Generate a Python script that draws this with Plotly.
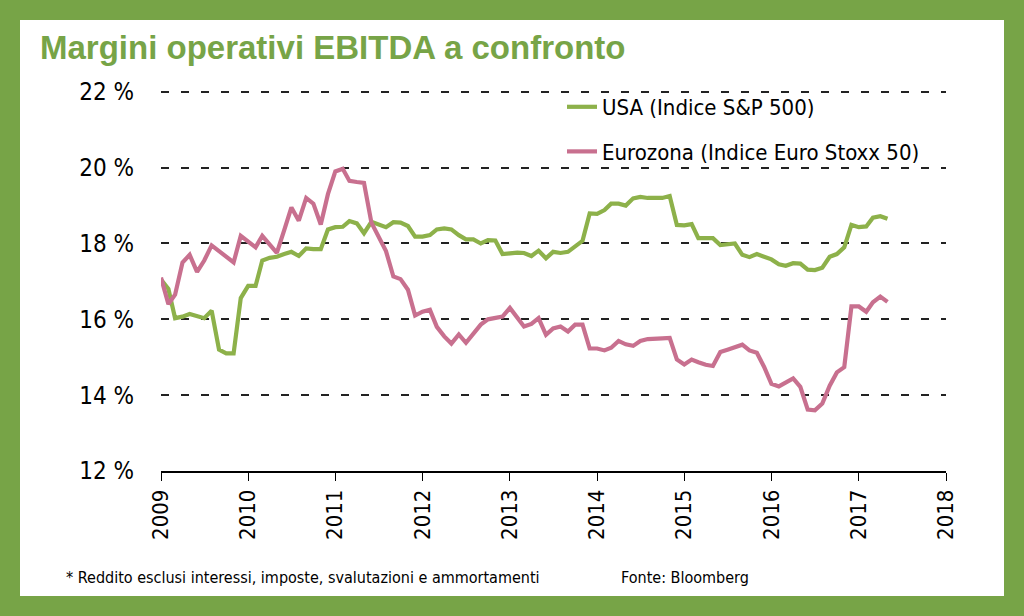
import pandas as pd
import plotly.graph_objects as go

# monthly readings, Jan 2009 - May 2017 (EBITDA margin, %)
months = pd.date_range("2009-01-01", periods=101, freq="MS")

usa = [
    17.05, 16.80, 16.03, 16.07, 16.14, 16.09, 16.03, 16.23, 15.20, 15.10, 15.10, 16.56,
    16.88, 16.88, 17.55, 17.62, 17.65, 17.72, 17.78, 17.67, 17.87, 17.85, 17.85, 18.37,
    18.43, 18.44, 18.59, 18.53, 18.27, 18.57, 18.51, 18.43, 18.56, 18.55, 18.46, 18.18,
    18.18, 18.22, 18.37, 18.40, 18.37, 18.22, 18.11, 18.11, 18.00, 18.09, 18.08, 17.72,
    17.74, 17.76, 17.75, 17.67, 17.81, 17.61, 17.78, 17.75, 17.78, 17.92, 18.07, 18.79,
    18.78, 18.88, 19.05, 19.05, 19.00, 19.19, 19.23, 19.20, 19.20, 19.20, 19.25, 18.49,
    18.48, 18.51, 18.14, 18.14, 18.14, 17.96, 17.98, 18.00, 17.70, 17.64, 17.72, 17.66,
    17.58, 17.45, 17.41, 17.48, 17.47, 17.31, 17.30, 17.36, 17.65, 17.72, 17.90, 18.49,
    18.43, 18.45, 18.68, 18.72, 18.65,
]

eurozona = [
    17.10, 16.40, 16.65, 17.50, 17.70, 17.25, 17.55, 17.95, 17.80, 17.65, 17.50, 18.20,
    18.05, 17.90, 18.20, 17.95, 17.75, 18.35, 18.95, 18.60, 19.20, 19.05, 18.50, 19.30,
    19.90, 19.97, 19.65, 19.62, 19.60, 18.55, 18.20, 17.80, 17.13, 17.06, 16.78, 16.10,
    16.20, 16.25, 15.80, 15.55, 15.36, 15.60, 15.38, 15.64, 15.86, 16.00, 16.05, 16.07,
    16.30, 16.06, 15.81, 15.88, 16.03, 15.59, 15.76, 15.81, 15.68, 15.86, 15.86, 15.23,
    15.23, 15.18, 15.25, 15.43, 15.34, 15.30, 15.43, 15.48, 15.50, 15.50, 15.51, 14.94,
    14.81, 14.94, 14.87, 14.80, 14.77, 15.14, 15.20, 15.27, 15.33, 15.18, 15.12, 14.75,
    14.30, 14.23, 14.33, 14.44, 14.22, 13.62, 13.60, 13.78, 14.25, 14.60, 14.74, 16.34,
    16.34, 16.20, 16.45, 16.60, 16.46,
]

names = ["USA (Indice S&P 500)", "Eurozona (Indice Euro Stoxx 50)"]
colors = ["#8db14a", "#c8708f"]

y_ticks = [12, 14, 16, 18, 20, 22]
y_labels = ["12 %", "14 %", "16 %", "18 %", "20 %", "22 %"]

frame_green = "#77a447"
narrow = "DejaVu Sans Condensed, DejaVu Sans, sans-serif"

# plot area: x 161..946 px, y 88..471 px (range 12..22.1)
W, H = 1024, 616
L, R, T, B = 161, 78, 88, 145
pw, ph = W - L - R, H - T - B


def px(x):
    return (x - L) / pw


def py(y):
    return (H - B - y) / ph


fig = go.Figure()
for i, series in enumerate([usa, eurozona]):
    fig.add_trace(go.Scatter(
        x=months, y=series, mode="lines", name=names[i],
        line=dict(color=colors[i], width=4.2), legendgroup=str(i)))

# white card on the green frame
fig.add_shape(type="rect", xref="paper", yref="paper", layer="below",
              x0=px(20), x1=px(1004), y0=py(596), y1=py(20),
              fillcolor="white", line_width=0)

fig.add_annotation(text="<b>Margini operativi EBITDA a confronto</b>",
                   xref="paper", yref="paper", x=px(38), y=py(48),
                   xanchor="left", yanchor="middle", showarrow=False,
                   font=dict(family="Liberation Sans, Arial, sans-serif", size=33, color=frame_green))
fig.add_annotation(text="* Reddito esclusi interessi, imposte, svalutazioni e ammortamenti",
                   xref="paper", yref="paper", x=px(64), y=py(577),
                   xanchor="left", yanchor="middle", showarrow=False,
                   font=dict(family=narrow, size=16, color="black"))
fig.add_annotation(text="Fonte: Bloomberg",
                   xref="paper", yref="paper", x=px(619), y=py(577),
                   xanchor="left", yanchor="middle", showarrow=False,
                   font=dict(family=narrow, size=16, color="black"))

fig.update_xaxes(
    type="date", range=["2009-01-01", "2018-01-01"], dtick="M12", tickformat="%Y",
    tickangle=-90, ticks="outside", ticklen=8, tickcolor="black", tickwidth=1.2,
    showline=True, linecolor="black", linewidth=1.5, showgrid=False, automargin=False,
    tickfont=dict(family=narrow, size=22, color="black"))
fig.update_yaxes(
    range=[12, 22.1], tickmode="array", tickvals=y_ticks, ticktext=y_labels, showgrid=True,
    gridcolor="#222222", gridwidth=1.6, griddash="8px,12px", zeroline=False,
    ticklabelstandoff=26, automargin=False,
    tickfont=dict(family=narrow, size=24, color="black"))

fig.update_layout(
    width=W, height=H,
    margin=dict(l=L, r=R, t=T, b=B),
    paper_bgcolor=frame_green, plot_bgcolor="rgba(0,0,0,0)",
    showlegend=True,
    legend=dict(x=px(562), y=py(86), xanchor="left", yanchor="top",
                bgcolor="rgba(0,0,0,0)", tracegroupgap=13, traceorder="grouped",
                font=dict(family=narrow, size=22, color="black")),
)

# drop the page's default body margin so the figure fills the window
fig.write_html("out.html", config={"displayModeBar": False},
               post_script="document.body.style.margin = '0';")
